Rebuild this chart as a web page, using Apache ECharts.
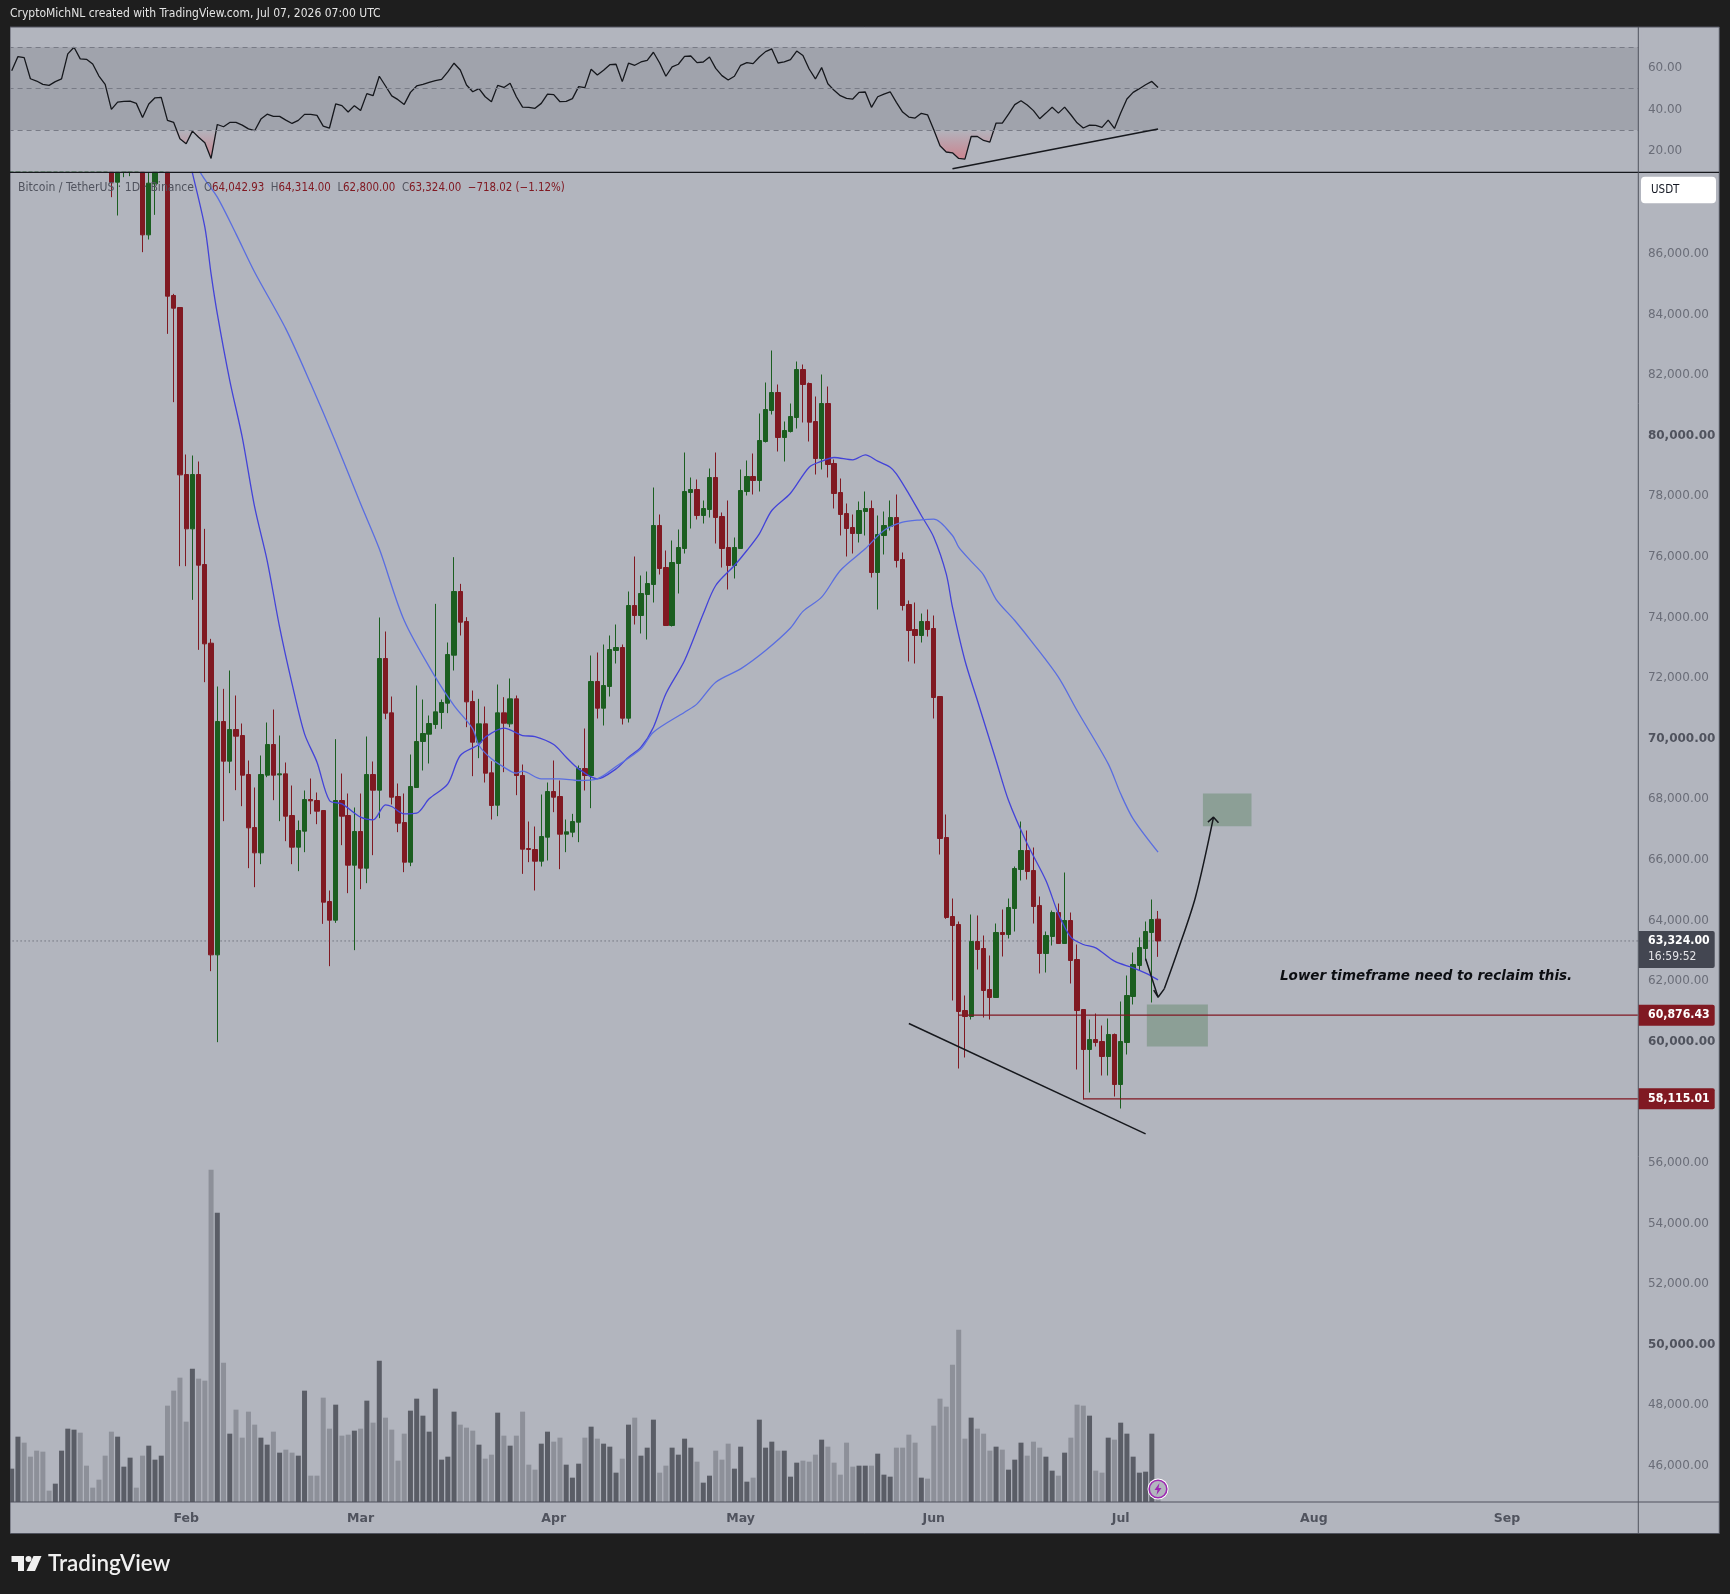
<!DOCTYPE html>
<html><head><meta charset="utf-8">
<script src="https://cdn.jsdelivr.net/npm/echarts@6/dist/echarts.min.js"></script>
<style>html,body{margin:0;padding:0;background:#1e1e1e}#c{width:1730px;height:1594px}</style>
</head><body><div id="c"></div>
<script>
const opens=[90500,91300,93800,93400,92600,91300,91000,90600,90800,91000,92500,95500,95300,95100,93600,92600,
89600,88364,89000,89800,90200,89000,86626,88309,89300,89700,84624,84228,78717,76924,78717,75747,73151,62866,70566,69257,70302,70104,68817,67068,
66232,68795,69807,68806,68839,67464,66419,66947,67992,67959,67629,64626,64010,67959,67464,65825,66936,65726,68817,68300,
72645,70852,68091,67233,65924,68388,69906,70148,70467,70863,71171,72755,74856,73866,71226,69884,70489,68872,67805,70852,
70489,71314,68784,66375,66342,65957,66749,68256,68091,66848,66914,67244,69015,68784,71886,71006,71721,72909,73008,70676,
74394,74064,74757,75087,77034,75648,73734,75780,76275,78123,78222,77364,77562,78618,77331,76308,75714,76275,78156,78651,
78519,79806,80829,81423,79938,80136,80598,82182,81720,80466,79245,81060,79080,78123,77430,76968,76770,77496,77595,75483,
76704,77001,77298,75912,74427,73602,73404,73866,73635,71391,66738,64131,63867,61029,60831,63306,63075,61722,61458,63603,
63537,64395,65682,66309,65649,64494,62910,63471,64263,63240,63999,62712,61062,59742,60072,60006,59511,60237,58587,59973,
61491,62514,63075,63603,64043];
const closes=[91300,93800,93400,92600,91300,91000,90600,90800,91000,92500,95500,95300,95100,93600,92600,89600,
88364,89400,89800,90200,89800,86626,88331,89300,89700,84602,84206,78706,76924,78717,75725,73129,62866,70566,69257,70302,70082,68795,67057,66232,
68817,69807,68795,68839,67442,66419,66969,67992,67948,67607,64604,64010,67959,67442,65825,66936,65726,68817,68300,72645,
70841,68069,67211,65924,68421,69906,70170,70500,70885,71193,72777,74856,73844,71215,69884,70489,68861,67794,70852,70511,
71314,68784,66353,66342,65957,66771,68256,68069,66848,66925,67266,69015,68784,71886,71006,71754,72942,73008,70676,74394,
74064,74790,75120,77034,75615,73734,75813,76308,78156,78222,77364,77595,78618,77298,76275,75714,76308,78189,78651,78519,
79839,80862,81423,79938,80169,80631,82182,81687,80444,79245,81060,79047,78090,77397,76935,76770,77529,77595,75483,76737,
77034,77298,75879,74394,73569,73404,73866,73602,71358,66705,64098,63834,60996,60831,63306,63042,61689,61458,63603,63537,
64428,65715,66309,65616,64461,62910,63504,64263,63240,63999,62679,61029,59742,60072,59973,59511,60237,58587,60006,61524,
62547,63108,63636,64032,63324];
const highs=[91900,94400,94400,94000,93200,91900,91600,91400,91600,93100,96100,96100,95900,95700,94200,93200,
90000,90000,90400,90500,90900,89500,89300,89900,90000,90000,84679,84228,79377,79344,79146,76924,73294,71721,71644,72249,71424,70500,69279,68388,
69444,70533,70962,70104,69213,68454,67299,68289,68685,68223,67629,64989,69983,68850,68190,67728,68190,70071,69246,73998,
73536,71391,68520,68190,69477,71754,71292,70764,74449,71292,73173,75989,75109,74009,71589,71314,71061,69257,71787,71369,
71985,71424,69147,67266,67101,68157,68553,69279,68619,67332,67519,69114,70335,72744,72843,73107,73404,73767,73107,74856,
76011,75384,75516,78288,77397,76209,76539,76902,79443,78618,78552,77859,78915,79443,77463,77859,76638,78882,79179,79410,
80730,81753,82809,81687,80466,81060,82446,82347,81753,81291,82017,81621,79212,78585,77760,77397,77826,78156,77859,77364,
77496,77859,78057,76143,74559,74493,74130,74262,74064,71391,67497,64725,63966,61524,64197,64164,63504,62844,63900,64362,
64725,65781,67266,66969,66408,64791,63636,64329,64560,65583,64263,63207,61062,60732,60930,60534,60765,60270,61326,62184,
62943,63438,63966,64692,64314];
const lows=[90000,90800,92900,92100,90800,90500,90100,90100,90300,90500,92000,95000,94800,93100,92100,89100,
87869,87264,88529,88562,88800,86054,86472,87286,88900,83359,81104,75692,75692,74581,72931,71864,62327,59984,67277,68861,68300,67772,65726,65099,
65858,68729,67970,67277,66617,65858,65627,66254,67508,67178,63889,62492,63922,66485,64901,63020,65033,65231,66155,67376,
70643,67827,66914,65594,65792,68388,68949,69180,70324,70324,70841,72249,73404,70379,68762,69356,68553,67332,67442,68894,
70379,68135,65539,65924,64989,65781,65979,67574,65693,66254,66749,66584,68289,67706,70665,70434,71391,72480,70467,70533,
73767,73470,73272,74493,75417,73734,73701,74790,76110,76935,77232,77100,77298,76440,75648,74922,75285,76275,78024,78057,
78156,79773,80697,79476,79146,80103,80235,80433,79806,78717,78882,78618,77595,76704,76011,76110,76473,76704,75318,74262,
76077,76869,75648,74229,72546,72480,73173,73371,70665,66177,64054,61359,59115,59478,60732,62382,60798,60732,61458,62811,
63405,63636,65319,65352,63900,62250,62283,63174,63240,63240,61920,59082,58092,58323,59841,58884,58884,58191,57795,59577,
61227,62349,62679,61293,62800];
const volumes=[10.0,19.6,17.8,13.6,15.4,15.1,3.4,5.5,15.4,22.0,21.7,20.8,10.9,4.3,6.7,13.9,21.1,19.6,10.6,13.3,
4.3,13.9,16.9,12.7,13.9,28.9,33.4,37.3,24.1,40.0,37.0,36.4,99.7,86.8,41.8,20.5,27.7,19.3,27.1,23.2,
19.3,17.2,21.1,14.8,15.7,14.8,13.9,33.4,7.9,7.9,31.3,22.0,29.2,19.9,20.2,21.4,22.0,30.4,23.8,42.4,
25.3,21.7,12.4,20.5,27.4,31.0,25.9,21.1,34.0,12.7,13.6,27.1,23.2,22.3,21.4,17.2,13.0,14.2,26.8,19.9,
16.9,19.9,27.1,11.2,9.7,17.5,21.1,18.1,19.3,11.2,7.3,11.5,19.3,22.6,19.0,
17.5,16.6,8.8,13.0,23.2,25.3,13.9,16.3,24.7,8.8,10.9,16.3,14.2,19.0,16.3,12.1,5.8,7.9,15.4,12.7,
17.5,10.0,16.6,6.1,7.3,24.7,16.3,18.1,15.4,15.4,7.6,11.8,12.4,12.1,14.2,18.7,16.6,11.8,8.2,17.8,
10.6,10.9,10.9,10.9,14.5,8.2,7.6,16.3,16.3,20.2,17.8,7.3,7.0,22.9,31.0,28.6,41.2,51.7,19.0,25.3,
22.0,20.5,15.4,16.6,15.7,9.7,12.7,17.8,13.9,18.1,16.3,13.6,9.4,7.9,14.8,19.3,29.2,28.9,25.9,9.4,
8.8,19.3,18.7,23.8,20.5,13.6,8.8,9.1,20.5,3.7];
const rsi=[58.7,65.5,65.0,54.8,53.7,52.1,51.6,53.4,54.7,66.8,70.0,64.4,64.2,61.9,56.1,52.1,40.0,43.5,43.9,44.0,
42.9,36.1,42.6,45.6,45.8,34.7,33.7,25.8,23.4,29.5,26.5,23.9,16.3,32.7,31.6,33.7,33.7,32.4,30.6,29.7,
35.3,37.7,36.6,36.6,34.8,33.2,34.7,37.6,37.6,37.1,31.9,31.0,42.6,41.8,38.7,41.8,39.5,47.6,46.6,56.0,
51.3,46.5,44.7,42.4,48.2,51.3,52.1,53.1,53.9,54.5,58.1,62.3,59.0,51.8,48.5,50.0,46.1,43.7,51.6,50.6,
52.6,46.1,41.1,41.0,40.5,42.9,47.4,47.1,43.7,43.9,45.2,51.0,50.5,59.4,56.6,
58.9,61.6,61.8,53.4,62.3,61.3,62.9,63.7,67.6,62.4,56.0,60.5,61.8,65.6,65.8,62.6,62.9,65.3,59.8,56.3,
54.2,56.0,61.3,62.6,62.1,65.3,67.9,69.2,62.4,62.9,64.0,68.2,66.0,59.5,54.7,60.2,52.4,49.2,46.6,45.3,
45.0,48.2,48.4,41.0,46.1,47.4,48.5,43.4,38.7,36.3,35.8,38.1,37.4,30.2,22.4,19.4,19.0,16.3,16.0,26.9,
26.9,25.0,24.2,33.4,33.4,37.7,42.3,44.2,42.1,39.4,35.5,38.2,41.0,38.2,41.1,37.4,33.5,31.0,32.4,32.3,
31.3,34.8,30.8,38.2,45.0,48.2,50.0,51.9,53.5,50.6];
const fastMa=[[28,89500],[29,88670],[31,86879],[32,85339],[33,84019],[35,81819],[37,79949],[39,77639],[41,75879],[43,73679],[45,71809],[47,70159],[49,69224],[51,67959],[53,67849],[56,67409],[58,67321],[60,67816],[61,67761],[63,67519],[65,67541],[67,68014],[70,68509],[72,69444],[75,69807],[76,70049],[79,70346],[82,70104],[84,70071],[87,69807],[89,69389],[91,69004],[94,68674],[97,69004],[99,69389],[101,69719],[103,70379],[105,71479],[108,72579],[111,74119],[113,75054],[116,75714],[118,76209],[120,76759],[122,77529],[125,78100],[128,78959],[130,79157],[132,79278],[135,79201],[137,79366],[139,79157],[141,78959],[142,78739],[144,78079],[146,77364],[148,76649],[150,75439],[151,74339],[153,72579],[155,71259],[158,69279],[160,67959],[163,66529],[166,65319],[168,64219],[170,63449],[172,63207],[174,63097],[177,62657],[180,62437],[182,62261],[184,62041]];
const slowMa=[[29,89900],[30,88800],[33,87869],[36,86659],[39,85394],[44,83524],[48,81709],[52,79784],[56,77749],[59,76264],[63,73899],[68,72029],[71,71094],[74,70324],[75,69774],[77,69334],[79,69059],[81,68861],[82,68927],[85,68674],[88,68674],[91,68619],[94,68674],[97,69081],[101,69664],[103,70214],[108,70874],[110,71149],[113,71864],[117,72304],[121,72909],[125,73650],[127,74200],[130,74669],[133,75549],[137,76264],[140,76869],[143,77144],[146,77221],[148,77243],[151,76704],[152,76319],[154,75850],[156,75400],[158,74600],[161,73899],[164,73129],[168,72029],[171,70929],[176,69169],[178,68179],[180,67354],[184,66254]];
const priceTicks=[46000,48000,50000,52000,54000,56000,58000,60000,62000,64000,66000,68000,70000,72000,74000,76000,78000,80000,82000,84000,86000];
const rsiTicks=[20,40,60];
const rsiLevels=[30,50,70];
const levelA=60876.43, levelB=58115.01, lastPrice=63324;
const supportRsi=[[151,11.3],[184,30.5]];
const wedgeLine=[[144,60600],[182,56959]];
const projectionDown=[[182,62734],[184,61469],[185,61744]];
const projectionUp=[[185,61744],[187,62899],[190,64769],[192.9,67409]];
const projectionTip=[[183.3,61700],[184,61469]];
const arrowHead=[[192,67244],[192.9,67409],[193.7,67222]];
const zoneLow=[[182.2,61227],[192,59841]];
const zoneHigh=[[191.2,68190],[199,67112]];

const categories=[];
for(let i=0;i<262;i++){const d=new Date(Date.UTC(2026,0,4+i));categories.push(d.toISOString().slice(0,10));}
const monthNames=['Jan','Feb','Mar','Apr','May','Jun','Jul','Aug','Sep','Oct'];
const RED='#801922',GREEN='#1b5e20',BG='#b2b5be',DARK='#1e1e1e';
const FONT='"DejaVu Sans"',COND='"DejaVu Sans Condensed","DejaVu Sans"';
const GL=8.6,GW=1632.3,PT=172.3,PB=1502;
const priceMin=44810,priceMax=88690;
const clampTop=v=>Math.min(v,priceMax);

const chart=echarts.init(document.getElementById('c'),null,{renderer:'canvas',width:1730,height:1594});
function seg(pts,color,width,z,xi,yi,type,smooth){return{type:'line',data:pts,xAxisIndex:xi==null?1:xi,yAxisIndex:yi==null?0:yi,symbol:'none',silent:true,z:z||5,smooth:smooth||false,lineStyle:{color,width:width||1.5,type:type||'solid'},animation:false};}
const option={
 animation:false,backgroundColor:DARK,
 grid:[{left:GL,width:GW,top:PT,height:PB-PT},{left:GL,width:GW,top:27,height:145.3}],
 xAxis:[
  {type:'category',gridIndex:0,data:categories,boundaryGap:true,axisTick:{show:false},splitLine:{show:false},
   axisLine:{show:false},
   axisLabel:{interval:(i,v)=>v.slice(8)==='01',formatter:v=>monthNames[+v.slice(5,7)-1],margin:10,color:'#50535e',fontFamily:FONT,fontSize:12.5,fontWeight:'bold'}},
  {type:'value',gridIndex:0,min:-0.5,max:261.5,show:false},
  {type:'category',gridIndex:1,data:categories,show:false}
 ],
 yAxis:[
  {type:'value',gridIndex:0,position:'right',min:priceMin,max:priceMax,splitLine:{show:false},axisLine:{show:false},axisTick:{show:false},
   axisLabel:{customValues:priceTicks,margin:7,align:'left',color:'#6a6d78',fontFamily:FONT,fontSize:12,
    formatter:v=>{const s=v.toLocaleString('en-US',{minimumFractionDigits:2});return v%10000===0?'{b|'+s+'}':s;},
    rich:{b:{color:'#50535e',fontWeight:'bold',fontFamily:FONT,fontSize:12}}}},
  {type:'value',gridIndex:0,min:0,max:398.9,show:false},
  {type:'value',gridIndex:1,position:'right',min:9.6,max:79.8,splitLine:{show:false},axisLine:{show:false},axisTick:{show:false},
   axisLabel:{customValues:rsiTicks,margin:7,align:'left',color:'#6a6d78',fontFamily:FONT,fontSize:12,formatter:v=>v.toFixed(2)}}
 ],
 series:[
  {type:'bar',xAxisIndex:0,yAxisIndex:1,data:volumes,barWidth:5,z:1,silent:true,
   itemStyle:{color:p=>closes[p.dataIndex]>=opens[p.dataIndex]?'#5a5d66':'#8d9099'}},
  {type:'candlestick',xAxisIndex:0,yAxisIndex:0,barWidth:4.8,z:3,silent:true,
   data:opens.map((o,i)=>[clampTop(o),clampTop(closes[i]),clampTop(lows[i]),clampTop(highs[i])]),
   itemStyle:{color:GREEN,color0:RED,borderColor:GREEN,borderColor0:RED,borderWidth:1}},
  seg(fastMa,'#4343d8',1.3,4,1,0,'solid',0.3),
  seg(slowMa,'#5a6ee0',1.3,4,1,0,'solid',0.3),
  seg([[-0.5,lastPrice],[261,lastPrice]],'#50535e',1,2,1,0,[1,3]),
  seg([[152,levelA],[261,levelA]],RED,1.2,4),
  seg([[172,levelB],[261,levelB]],RED,1.2,4),
  seg(wedgeLine,'#16181d',1.5,6),
  seg(projectionDown,'#16181d',1.5,6),
  seg(projectionUp,'#16181d',1.5,6,1,0,'solid',0.3),
  seg(projectionTip,'#16181d',1.5,6),
  seg(arrowHead,'#16181d',1.5,6),
  {type:'line',xAxisIndex:1,yAxisIndex:0,data:[],silent:true,z:4,
   markArea:{silent:true,itemStyle:{color:'rgba(27,94,32,0.25)'},data:[
    [{xAxis:zoneLow[0][0],yAxis:zoneLow[0][1]},{xAxis:zoneLow[1][0],yAxis:zoneLow[1][1]}],
    [{xAxis:zoneHigh[0][0],yAxis:zoneHigh[0][1]},{xAxis:zoneHigh[1][0],yAxis:zoneHigh[1][1]}]]}},
  {type:'line',xAxisIndex:2,yAxisIndex:2,data:rsi.map(v=>Math.min(v,rsiLevels[0])),symbol:'none',silent:true,z:2,
   lineStyle:{width:0},
   areaStyle:{origin:rsiLevels[0],color:new echarts.graphic.LinearGradient(0,0,0,1,[{offset:0,color:'rgba(242,54,69,0.02)'},{offset:1,color:'rgba(242,54,69,0.55)'}])}},
  {type:'line',xAxisIndex:2,yAxisIndex:2,data:rsi,symbol:'none',silent:true,z:4,lineStyle:{color:'#15171c',width:1.3},
   markArea:{silent:true,itemStyle:{color:'rgba(120,123,134,0.30)'},data:[[{yAxis:rsiLevels[0]},{yAxis:rsiLevels[2]}]]},
   markLine:{silent:true,symbol:'none',label:{show:false},lineStyle:{color:'#787b86',type:[5,4],width:1},data:rsiLevels.map(v=>({yAxis:v}))}},
  seg(supportRsi.map(p=>[p[0],p[1]]),'#16181d',1.5,6,2,2)
 ]
};
chart.setOption(option);
const yp=v=>chart.convertToPixel({yAxisIndex:0},v);
function tag(v,label,fill){const y=yp(v);return[
 {type:'rect',shape:{x:1638.7,y:y-10.5,width:76,height:21,r:[0,2,2,0]},style:{fill},z:100},
 {type:'text',x:1648,y:y,style:{text:label,fill:'#fff',font:'bold 12.2px '+COND,textVerticalAlign:'middle'},z:101}];}
const yLast=yp(lastPrice);
chart.setOption({graphic:{elements:[
 {type:'rect',shape:{x:10,y:27,width:1709.3,height:1506.5},style:{fill:BG,stroke:'#50535e',lineWidth:1},z:-100},
 {type:'rect',shape:{x:0,y:27,width:10,height:1510},style:{fill:DARK},z:90},
 {type:'rect',shape:{x:1638.4,y:28,width:3,height:143.5},style:{fill:BG},z:90},
 {type:'line',shape:{x1:10,y1:PT,x2:1719,y2:PT},style:{stroke:'#16181d',lineWidth:1.2},z:90},
 {type:'line',shape:{x1:10,y1:PB,x2:1719,y2:PB},style:{stroke:'#50535e',lineWidth:1.2},z:90},
 {type:'line',shape:{x1:1638.3,y1:27,x2:1638.3,y2:1533},style:{stroke:'#50535e',lineWidth:1},z:90},
 {type:'text',x:10,y:14,style:{text:'CryptoMichNL created with TradingView.com, Jul 07, 2026 07:00 UTC',fill:'#e4e4e4',font:'12px '+COND,textVerticalAlign:'middle'},z:100},
 {type:'text',x:18,y:188,style:{text:'Bitcoin / TetherUS · 1D · Binance',fill:'#50535e',font:'12.1px '+COND,textVerticalAlign:'middle'},z:100},
 {type:'text',x:204,y:188,style:{text:'{g|O}{r|64,042.93}  {g|H}{r|64,314.00}  {g|L}{r|62,800.00}  {g|C}{r|63,324.00}  {r|−718.02 (−1.12%)}',textVerticalAlign:'middle',
   rich:{g:{fill:'#50535e',font:'11.4px '+COND},r:{fill:RED,font:'11.4px '+COND}}},z:100},
 {type:'rect',shape:{x:1641,y:176.7,width:75,height:26.6,r:4},style:{fill:'#fff'},z:100},
 {type:'text',x:1651,y:190.5,style:{text:'USDT',fill:'#131722',font:'11.5px '+COND,textVerticalAlign:'middle'},z:101},
 {type:'rect',shape:{x:1638.7,y:931,width:76,height:37,r:[0,2,2,0]},style:{fill:'#434651'},z:100},
 {type:'text',x:1648,y:yLast,style:{text:'63,324.00',fill:'#fff',font:'bold 12.2px '+COND,textVerticalAlign:'middle'},z:101},
 {type:'text',x:1648,y:yLast+16,style:{text:'16:59:52',fill:'#e4e4e8',font:'12px '+COND,textVerticalAlign:'middle'},z:101},
 ...tag(levelA,'60,876.43',RED),...tag(levelB,'58,115.01',RED),
 {type:'text',x:1280,y:976.7,style:{text:'Lower timeframe need to reclaim this.',fill:'#0c0e12',font:'italic bold 13.5px '+FONT,textVerticalAlign:'middle'},z:100},
 {type:'circle',shape:{cx:1158,cy:1489,r:10.5},style:{fill:'#fff'},z:100},
 {type:'circle',shape:{cx:1158,cy:1489,r:8.8},style:{fill:BG,stroke:'#9c27b0',lineWidth:1.6},z:101},
 {type:'polygon',shape:{points:[[1159.5,1483],[1154.5,1490],[1157.5,1490],[1156.5,1495],[1161.5,1488],[1158.5,1488]]},style:{fill:'#9c27b0'},z:102},
 {type:'polygon',shape:{points:[[11.5,1556],[24,1556],[24,1571],[18,1571],[18,1562],[11.5,1562]]},style:{fill:'#f0f0f0'},z:100},
 {type:'circle',shape:{cx:28.5,cy:1559,r:3},style:{fill:'#f0f0f0'},z:100},
 {type:'polygon',shape:{points:[[33.5,1556],[41.5,1556],[35,1571],[26.5,1571]]},style:{fill:'#f0f0f0'},z:100},
 {type:'text',x:48,y:1564,style:{text:'TradingView',fill:'#f0f0f0',font:'600 22.4px Lato',textVerticalAlign:'middle'},z:100}
]}});
</script></body></html>
